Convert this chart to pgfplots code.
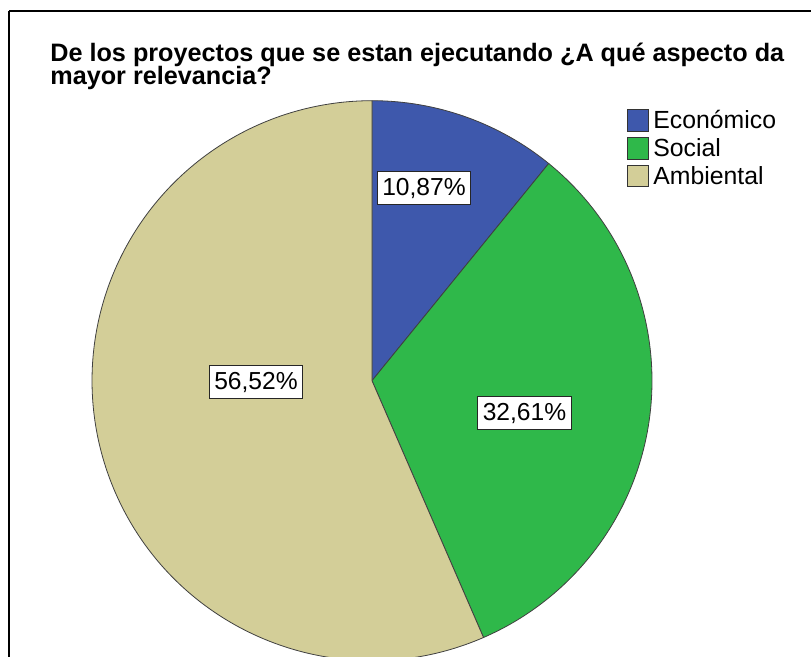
\documentclass[border=0pt]{standalone}
\usepackage{fontspec}
\setmainfont{Liberation Sans}
\usepackage{pgfplots}
\usepackage{pgfplotstable}
\pgfplotsset{compat=1.18}
\definecolor{cEco}{RGB}{62,88,172}
\definecolor{cSoc}{RGB}{47,184,74}
\definecolor{cAmb}{RGB}{211,206,152}
\pgfplotstableread[col sep=comma]{
name,value
Economico,10.87
Social,32.61
Ambiental,56.52
}\piedata
\newcommand\pct[1]{\pgfmathprintnumber[fixed,precision=2,fixed zerofill,use comma,assume math mode=true]{#1}\%}
\begin{document}%
\begin{tikzpicture}
\pgfplotstablegetelem{0}{value}\of\piedata \let\vA\pgfplotsretval
\pgfplotstablegetelem{1}{value}\of\piedata \let\vB\pgfplotsretval
\pgfplotstablegetelem{2}{value}\of\piedata \let\vC\pgfplotsretval
\pgfmathsetmacro\aA{90}
\pgfmathsetmacro\aB{\aA-3.6*\vA}
\pgfmathsetmacro\aC{\aB-3.6*\vB}
\pgfmathsetmacro\aD{\aC-3.6*\vC}
\begin{axis}[at={(0,0)}, anchor=south west, scale only axis,
  width=405.5pt, height=328.5pt,
  xmin=0, xmax=811, ymin=0, ymax=657,
  hide axis, clip=false]
\addplot[draw=none] coordinates {(0,0) (811,657)};
% frame
\draw[line width=1pt, black] (axis cs:9,646) -- (axis cs:830,646);
\draw[line width=1pt, black] (axis cs:9,646) -- (axis cs:9,-20);
% wedges
\filldraw[fill=cEco, draw=black!75, line width=0.4pt] (axis cs:372,276.3) -- ++(\aA:140pt) arc[start angle=\aA, end angle=\aB, radius=140pt] -- cycle;
\filldraw[fill=cSoc, draw=black!75, line width=0.4pt] (axis cs:372,276.3) -- ++(\aB:140pt) arc[start angle=\aB, end angle=\aC, radius=140pt] -- cycle;
\filldraw[fill=cAmb, draw=black!75, line width=0.4pt] (axis cs:372,276.3) -- ++(\aC:140pt) arc[start angle=\aC, end angle=\aD, radius=140pt] -- cycle;
% labels
\tikzset{lbl/.style={fill=white, draw=black!85, line width=0.5pt, inner xsep=2.5pt, inner ysep=0pt, minimum height=16.5pt, font=\fontsize{12.3}{14}\selectfont}}
\node[lbl] at (axis cs:424,468.5) {\pct{\vA}};
\node[lbl] at (axis cs:524.5,244) {\pct{\vB}};
\node[lbl] at (axis cs:256,274.5) {\pct{\vC}};
% title
\node[anchor=base west, inner sep=0pt, font=\bfseries\fontsize{12.6}{14}\selectfont] at (axis cs:50,595) {De los proyectos que se estan ejecutando ¿A qué aspecto da};
\node[anchor=base west, inner sep=0pt, font=\bfseries\fontsize{12.6}{14}\selectfont] at (axis cs:50,572) {mayor relevancia?};
% legend
\filldraw[fill=cEco, draw=black!80, line width=0.5pt] (axis cs:627,547) rectangle (axis cs:648,525);
\filldraw[fill=cSoc, draw=black!80, line width=0.5pt] (axis cs:627,519) rectangle (axis cs:648,497);
\filldraw[fill=cAmb, draw=black!80, line width=0.5pt] (axis cs:627,491) rectangle (axis cs:648,470);
\node[anchor=base west, inner sep=0pt, font=\fontsize{12.4}{14}\selectfont] at (axis cs:653,528) {Económico};
\node[anchor=base west, inner sep=0pt, font=\fontsize{12.4}{14}\selectfont] at (axis cs:653,500) {Social};
\node[anchor=base west, inner sep=0pt, font=\fontsize{12.4}{14}\selectfont] at (axis cs:653,472.5) {Ambiental};
\end{axis}
\pgfresetboundingbox
\path (0,0) rectangle (405.5pt,328.5pt);
\end{tikzpicture}%
\end{document}
